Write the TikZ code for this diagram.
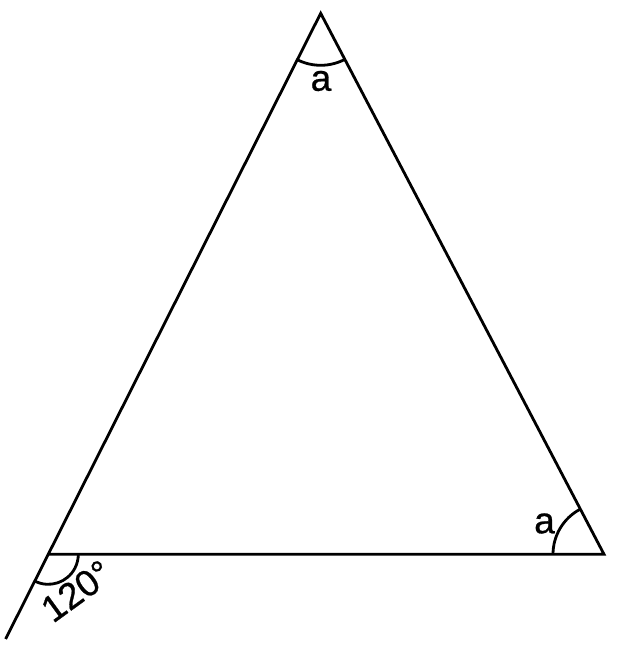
\documentclass[tikz,border=0pt]{standalone}
\usepackage{fontspec}
\setmainfont{Liberation Sans}
\newfontfamily\lblfont[FakeBold=0.7]{Liberation Sans}
\usetikzlibrary{angles}
\begin{document}
\begin{tikzpicture}[x=1pt,y=1pt,
  edge/.style={line width=2.8pt, line join=miter},
  anglemark/.style={draw, line width=2.8pt},
  lbl/.style={font=\lblfont\fontsize{37}{44}\selectfont, inner sep=0pt}]
\useasboundingbox (0,0) rectangle (617,-650);
\coordinate (A) at (320.7,-13.3);
\coordinate (B) at (48.3,-554.3);
\coordinate (C) at (604,-554.3);
\coordinate (E) at (5.6,-639);
\draw[edge] (E) -- (A) -- (C) -- (B);
\pic[anglemark, angle radius=52pt] {angle = B--A--C};
\pic[anglemark, angle radius=51pt] {angle = A--C--B};
\pic[anglemark, angle radius=30pt] {angle = E--B--C};
\node[lbl] (la) at (321,-81) {a};
\node[lbl] (lc) at (544.5,-523.5) {a};
\node[lbl, rotate=36] (lb) at (76.5,-591) {120°};
\end{tikzpicture}
\end{document}
